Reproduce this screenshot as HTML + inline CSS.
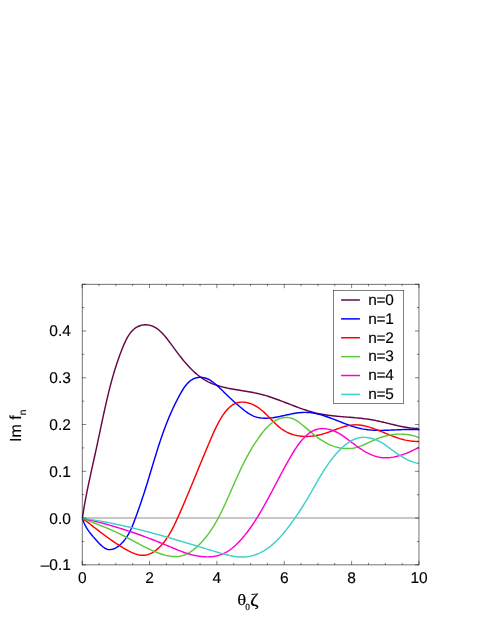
<!DOCTYPE html>
<html><head><meta charset="utf-8"><title>Im f_n</title>
<style>
html,body{margin:0;padding:0;background:#fff;}
svg{display:block;will-change:transform;}
text{font-family:"Liberation Sans",sans-serif;font-size:16px;fill:#000;stroke:#000;stroke-width:0.15px;text-rendering:geometricPrecision;}
.ser{font-family:"Liberation Serif",serif;}
</style></head><body>
<svg width="491" height="635" viewBox="0 0 491 635">
<rect width="491" height="635" fill="#fff"/>
<path d="M82.17,518.0 H419.0" stroke="#b4b4b4" stroke-width="1.5" fill="none"/>
<g fill="none" stroke-width="1.45" stroke-linejoin="round" stroke-linecap="butt">
<path d="M82.40,518.20 L82.61,516.73 L82.82,515.26 L83.05,513.79 L83.27,512.32 L83.51,510.85 L83.75,509.38 L83.99,507.91 L84.24,506.43 L84.50,504.96 L84.76,503.48 L85.03,502.01 L85.30,500.53 L85.57,499.05 L85.85,497.57 L86.13,496.09 L86.42,494.61 L86.71,493.13 L87.00,491.65 L87.30,490.17 L87.60,488.69 L87.91,487.20 L88.21,485.72 L88.52,484.24 L88.84,482.75 L89.15,481.27 L89.47,479.78 L89.79,478.30 L90.11,476.81 L90.43,475.33 L90.75,473.84 L91.08,472.36 L91.40,470.87 L91.73,469.39 L92.06,467.90 L92.39,466.41 L92.72,464.93 L93.05,463.44 L93.38,461.96 L93.71,460.47 L94.03,458.99 L94.36,457.50 L94.69,456.02 L95.02,454.53 L95.35,453.05 L95.67,451.57 L95.99,450.08 L96.32,448.60 L96.64,447.12 L96.96,445.63 L97.28,444.15 L97.59,442.67 L97.91,441.19 L98.22,439.71 L98.54,438.23 L98.85,436.75 L99.16,435.28 L99.48,433.80 L99.79,432.32 L100.10,430.85 L100.41,429.37 L100.72,427.90 L101.03,426.43 L101.34,424.95 L101.66,423.48 L101.97,422.01 L102.28,420.55 L102.60,419.08 L102.91,417.61 L103.23,416.15 L103.55,414.68 L103.86,413.22 L104.18,411.76 L104.51,410.30 L104.83,408.84 L105.15,407.38 L105.48,405.92 L105.81,404.47 L106.14,403.01 L106.47,401.56 L106.81,400.11 L107.15,398.66 L107.49,397.21 L107.83,395.77 L108.18,394.32 L108.53,392.88 L108.89,391.44 L109.24,389.99 L109.61,388.55 L109.98,387.11 L110.35,385.67 L110.73,384.23 L111.11,382.79 L111.50,381.35 L111.89,379.91 L112.29,378.47 L112.70,377.03 L113.11,375.59 L113.53,374.15 L113.96,372.71 L114.39,371.27 L114.83,369.83 L115.28,368.38 L115.74,366.94 L116.21,365.49 L116.68,364.04 L117.16,362.60 L117.65,361.15 L118.16,359.69 L118.67,358.24 L119.19,356.79 L119.72,355.33 L120.26,353.87 L120.81,352.41 L121.37,350.94 L121.95,349.48 L122.53,348.01 L123.13,346.54 L123.74,345.07 L124.37,343.61 L125.02,342.16 L125.69,340.73 L126.39,339.32 L127.12,337.95 L127.88,336.61 L128.68,335.32 L129.51,334.07 L130.39,332.88 L131.32,331.74 L132.29,330.68 L133.32,329.68 L134.40,328.76 L135.54,327.92 L136.74,327.18 L137.99,326.52 L139.29,325.96 L140.63,325.51 L142.00,325.16 L143.39,324.92 L144.80,324.80 L146.22,324.80 L147.64,324.92 L149.06,325.15 L150.46,325.48 L151.85,325.92 L153.20,326.46 L154.52,327.09 L155.80,327.81 L157.03,328.60 L158.23,329.48 L159.38,330.42 L160.50,331.42 L161.59,332.47 L162.65,333.57 L163.68,334.71 L164.68,335.88 L165.67,337.07 L166.63,338.29 L167.58,339.51 L168.52,340.73 L169.44,341.96 L170.36,343.19 L171.27,344.42 L172.18,345.66 L173.09,346.90 L174.00,348.14 L174.91,349.38 L175.84,350.62 L176.76,351.87 L177.70,353.10 L178.64,354.34 L179.58,355.57 L180.54,356.79 L181.50,358.01 L182.47,359.22 L183.45,360.42 L184.44,361.61 L185.44,362.78 L186.45,363.94 L187.47,365.09 L188.50,366.22 L189.54,367.33 L190.60,368.43 L191.66,369.51 L192.74,370.56 L193.83,371.59 L194.94,372.60 L196.06,373.58 L197.19,374.54 L198.34,375.47 L199.50,376.38 L200.68,377.25 L201.88,378.09 L203.09,378.90 L204.32,379.68 L205.56,380.42 L206.83,381.12 L208.11,381.79 L209.41,382.43 L210.73,383.03 L212.06,383.59 L213.41,384.13 L214.77,384.63 L216.15,385.11 L217.54,385.56 L218.95,385.99 L220.36,386.39 L221.79,386.78 L223.23,387.14 L224.68,387.48 L226.14,387.81 L227.60,388.12 L229.08,388.42 L230.56,388.70 L232.05,388.97 L233.54,389.24 L235.04,389.50 L236.55,389.75 L238.06,389.99 L239.57,390.24 L241.08,390.48 L242.60,390.72 L244.11,390.97 L245.63,391.21 L247.15,391.47 L248.66,391.72 L250.18,391.99 L251.69,392.27 L253.20,392.55 L254.70,392.85 L256.20,393.17 L257.70,393.50 L259.18,393.84 L260.67,394.21 L262.14,394.59 L263.61,395.00 L265.08,395.41 L266.54,395.85 L267.99,396.30 L269.44,396.76 L270.88,397.23 L272.32,397.72 L273.75,398.22 L275.18,398.72 L276.61,399.24 L278.03,399.76 L279.45,400.29 L280.87,400.82 L282.29,401.36 L283.70,401.90 L285.11,402.45 L286.52,403.00 L287.93,403.54 L289.33,404.09 L290.74,404.64 L292.15,405.18 L293.55,405.72 L294.96,406.25 L296.36,406.78 L297.77,407.31 L299.17,407.82 L300.58,408.33 L301.99,408.83 L303.40,409.32 L304.82,409.80 L306.23,410.26 L307.65,410.71 L309.07,411.15 L310.50,411.57 L311.92,411.97 L313.36,412.36 L314.79,412.73 L316.23,413.08 L317.68,413.41 L319.12,413.72 L320.58,414.01 L322.04,414.28 L323.50,414.53 L324.96,414.77 L326.43,414.99 L327.91,415.20 L329.38,415.40 L330.86,415.58 L332.35,415.75 L333.84,415.92 L335.33,416.07 L336.82,416.22 L338.31,416.36 L339.81,416.49 L341.31,416.62 L342.81,416.74 L344.32,416.86 L345.82,416.98 L347.33,417.10 L348.84,417.22 L350.35,417.34 L351.86,417.47 L353.37,417.59 L354.89,417.73 L356.40,417.86 L357.92,418.01 L359.43,418.16 L360.95,418.32 L362.47,418.49 L363.98,418.67 L365.50,418.86 L367.01,419.07 L368.53,419.29 L370.04,419.52 L371.55,419.77 L373.07,420.04 L374.58,420.32 L376.09,420.62 L377.60,420.94 L379.10,421.26 L380.61,421.60 L382.11,421.94 L383.61,422.30 L385.11,422.65 L386.61,423.02 L388.10,423.38 L389.59,423.74 L391.08,424.11 L392.57,424.47 L394.05,424.82 L395.53,425.17 L397.00,425.52 L398.48,425.85 L399.94,426.17 L401.41,426.48 L402.87,426.77 L404.32,427.05 L405.77,427.31 L407.22,427.55 L408.66,427.77 L410.10,427.96 L411.53,428.14 L412.96,428.28 L414.38,428.40 L415.80,428.49 L417.21,428.54 L418.61,428.57" stroke="#670748"/>
<path d="M82.40,518.20 L82.84,519.67 L83.33,521.10 L83.86,522.48 L84.45,523.83 L85.09,525.15 L85.77,526.44 L86.49,527.70 L87.26,528.94 L88.07,530.16 L88.92,531.37 L89.81,532.57 L90.73,533.77 L91.69,534.96 L92.68,536.15 L93.71,537.35 L94.77,538.56 L95.86,539.78 L96.98,541.02 L98.12,542.25 L99.29,543.47 L100.48,544.65 L101.70,545.77 L102.93,546.81 L104.19,547.73 L105.46,548.51 L106.75,549.09 L108.06,549.46 L109.37,549.62 L110.69,549.59 L112.01,549.38 L113.32,549.00 L114.62,548.48 L115.90,547.82 L117.16,547.05 L118.39,546.17 L119.59,545.21 L120.75,544.17 L121.86,543.07 L122.92,541.93 L123.93,540.77 L124.88,539.58 L125.78,538.38 L126.63,537.16 L127.43,535.92 L128.19,534.67 L128.91,533.40 L129.59,532.12 L130.24,530.82 L130.86,529.51 L131.46,528.18 L132.04,526.85 L132.60,525.50 L133.14,524.14 L133.67,522.77 L134.20,521.38 L134.72,519.99 L135.24,518.59 L135.76,517.18 L136.28,515.76 L136.80,514.34 L137.32,512.91 L137.83,511.47 L138.35,510.02 L138.86,508.57 L139.36,507.12 L139.87,505.66 L140.37,504.20 L140.88,502.73 L141.37,501.27 L141.87,499.80 L142.36,498.33 L142.85,496.85 L143.33,495.38 L143.81,493.91 L144.29,492.44 L144.76,490.97 L145.23,489.50 L145.70,488.04 L146.16,486.58 L146.61,485.12 L147.07,483.66 L147.51,482.21 L147.96,480.75 L148.40,479.30 L148.85,477.85 L149.28,476.41 L149.72,474.96 L150.16,473.52 L150.59,472.08 L151.02,470.64 L151.45,469.21 L151.88,467.78 L152.31,466.34 L152.74,464.91 L153.17,463.49 L153.60,462.06 L154.03,460.63 L154.47,459.21 L154.90,457.79 L155.33,456.37 L155.77,454.95 L156.21,453.54 L156.65,452.12 L157.09,450.71 L157.53,449.30 L157.98,447.89 L158.43,446.48 L158.89,445.07 L159.35,443.66 L159.81,442.26 L160.27,440.85 L160.75,439.45 L161.22,438.05 L161.70,436.65 L162.19,435.25 L162.68,433.85 L163.18,432.46 L163.68,431.06 L164.19,429.66 L164.71,428.27 L165.23,426.88 L165.76,425.48 L166.30,424.09 L166.84,422.70 L167.40,421.31 L167.96,419.92 L168.53,418.53 L169.10,417.14 L169.69,415.75 L170.29,414.37 L170.89,412.98 L171.51,411.59 L172.14,410.21 L172.77,408.82 L173.42,407.43 L174.07,406.05 L174.74,404.66 L175.42,403.28 L176.11,401.89 L176.82,400.51 L177.53,399.12 L178.26,397.74 L179.00,396.35 L179.75,394.97 L180.51,393.59 L181.30,392.21 L182.10,390.85 L182.92,389.50 L183.76,388.19 L184.64,386.92 L185.54,385.70 L186.48,384.53 L187.46,383.42 L188.47,382.38 L189.53,381.42 L190.63,380.55 L191.79,379.77 L192.99,379.09 L194.24,378.52 L195.53,378.06 L196.86,377.70 L198.21,377.46 L199.58,377.33 L200.97,377.32 L202.36,377.42 L203.75,377.64 L205.14,377.98 L206.51,378.44 L207.87,379.02 L209.22,379.70 L210.54,380.48 L211.85,381.33 L213.14,382.26 L214.41,383.24 L215.66,384.28 L216.88,385.35 L218.09,386.44 L219.27,387.55 L220.42,388.66 L221.56,389.76 L222.66,390.84 L223.75,391.91 L224.81,392.95 L225.87,393.99 L226.91,395.01 L227.96,396.02 L229.00,397.02 L230.05,398.02 L231.12,399.02 L232.20,400.01 L233.29,401.00 L234.41,402.00 L235.53,402.99 L236.68,403.98 L237.84,404.98 L239.02,405.98 L240.21,406.98 L241.42,407.98 L242.64,408.99 L243.88,409.99 L245.13,410.97 L246.40,411.92 L247.68,412.83 L248.97,413.68 L250.28,414.48 L251.60,415.19 L252.93,415.83 L254.28,416.38 L255.64,416.85 L257.01,417.25 L258.39,417.57 L259.78,417.83 L261.18,418.02 L262.60,418.15 L264.02,418.23 L265.45,418.25 L266.89,418.22 L268.33,418.15 L269.79,418.04 L271.25,417.88 L272.71,417.70 L274.19,417.48 L275.66,417.23 L277.15,416.97 L278.64,416.68 L280.13,416.37 L281.62,416.06 L283.12,415.73 L284.62,415.40 L286.13,415.07 L287.63,414.75 L289.14,414.42 L290.65,414.11 L292.16,413.82 L293.67,413.54 L295.17,413.28 L296.68,413.05 L298.19,412.84 L299.69,412.67 L301.19,412.53 L302.69,412.44 L304.19,412.38 L305.68,412.38 L307.16,412.42 L308.65,412.51 L310.13,412.65 L311.60,412.83 L313.07,413.04 L314.54,413.30 L316.01,413.59 L317.47,413.92 L318.93,414.28 L320.39,414.66 L321.85,415.08 L323.30,415.52 L324.75,415.98 L326.20,416.46 L327.64,416.97 L329.08,417.48 L330.53,418.02 L331.97,418.56 L333.41,419.11 L334.84,419.67 L336.28,420.24 L337.72,420.81 L339.15,421.38 L340.59,421.95 L342.02,422.52 L343.45,423.08 L344.89,423.63 L346.32,424.18 L347.75,424.71 L349.19,425.22 L350.62,425.72 L352.05,426.21 L353.49,426.67 L354.92,427.11 L356.36,427.52 L357.80,427.90 L359.24,428.26 L360.68,428.58 L362.12,428.88 L363.56,429.14 L365.00,429.37 L366.45,429.57 L367.90,429.75 L369.35,429.90 L370.80,430.03 L372.26,430.14 L373.72,430.22 L375.18,430.29 L376.64,430.33 L378.11,430.36 L379.58,430.38 L381.06,430.38 L382.53,430.36 L384.02,430.34 L385.50,430.30 L386.99,430.26 L388.48,430.20 L389.98,430.14 L391.48,430.08 L392.99,430.01 L394.50,429.94 L396.02,429.87 L397.54,429.80 L399.06,429.73 L400.59,429.67 L402.13,429.61 L403.67,429.55 L405.22,429.51 L406.78,429.47 L408.34,429.44 L409.90,429.42 L411.47,429.42 L413.05,429.43 L414.64,429.45 L416.23,429.49 L417.83,429.55 L419.44,429.63" stroke="#0000ff"/>
<path d="M82.40,518.20 L83.63,519.14 L84.86,520.08 L86.07,521.01 L87.28,521.95 L88.47,522.87 L89.66,523.80 L90.85,524.72 L92.03,525.64 L93.20,526.56 L94.38,527.47 L95.55,528.38 L96.71,529.28 L97.88,530.18 L99.05,531.08 L100.22,531.98 L101.39,532.87 L102.57,533.75 L103.75,534.64 L104.93,535.52 L106.12,536.39 L107.32,537.27 L108.52,538.14 L109.73,539.00 L110.95,539.86 L112.19,540.72 L113.43,541.57 L114.68,542.42 L115.95,543.27 L117.23,544.11 L118.53,544.95 L119.84,545.78 L121.17,546.61 L122.52,547.44 L123.88,548.26 L125.27,549.07 L126.66,549.86 L128.07,550.63 L129.49,551.36 L130.91,552.06 L132.34,552.70 L133.77,553.30 L135.20,553.83 L136.63,554.29 L138.06,554.67 L139.47,554.97 L140.88,555.17 L142.28,555.28 L143.66,555.28 L145.02,555.16 L146.37,554.94 L147.70,554.62 L149.01,554.19 L150.30,553.67 L151.57,553.07 L152.82,552.38 L154.04,551.62 L155.24,550.78 L156.42,549.88 L157.57,548.92 L158.70,547.90 L159.79,546.84 L160.87,545.73 L161.91,544.58 L162.92,543.40 L163.90,542.20 L164.85,540.97 L165.77,539.72 L166.66,538.46 L167.51,537.19 L168.34,535.90 L169.15,534.60 L169.93,533.28 L170.69,531.96 L171.43,530.63 L172.15,529.29 L172.85,527.94 L173.53,526.58 L174.20,525.22 L174.86,523.85 L175.51,522.48 L176.15,521.11 L176.78,519.73 L177.40,518.36 L178.03,516.98 L178.64,515.60 L179.26,514.23 L179.87,512.85 L180.48,511.48 L181.08,510.10 L181.68,508.73 L182.28,507.35 L182.88,505.97 L183.47,504.60 L184.06,503.22 L184.65,501.85 L185.24,500.47 L185.82,499.09 L186.40,497.72 L186.98,496.34 L187.56,494.97 L188.14,493.59 L188.72,492.21 L189.29,490.83 L189.86,489.46 L190.43,488.08 L191.01,486.70 L191.58,485.32 L192.14,483.94 L192.71,482.56 L193.28,481.18 L193.85,479.80 L194.41,478.42 L194.98,477.04 L195.55,475.66 L196.11,474.28 L196.68,472.89 L197.25,471.51 L197.81,470.13 L198.38,468.74 L198.95,467.36 L199.52,465.97 L200.09,464.58 L200.66,463.19 L201.23,461.80 L201.81,460.41 L202.38,459.02 L202.96,457.63 L203.53,456.24 L204.11,454.85 L204.69,453.45 L205.27,452.06 L205.86,450.66 L206.45,449.26 L207.03,447.87 L207.63,446.47 L208.22,445.07 L208.82,443.66 L209.41,442.26 L210.02,440.86 L210.62,439.45 L211.23,438.05 L211.84,436.64 L212.45,435.23 L213.07,433.82 L213.70,432.41 L214.33,431.01 L214.97,429.61 L215.62,428.21 L216.29,426.83 L216.97,425.45 L217.66,424.08 L218.37,422.73 L219.10,421.38 L219.85,420.06 L220.62,418.75 L221.41,417.45 L222.23,416.18 L223.08,414.93 L223.95,413.70 L224.85,412.49 L225.78,411.32 L226.75,410.17 L227.74,409.06 L228.78,407.99 L229.85,406.99 L230.96,406.06 L232.11,405.21 L233.30,404.45 L234.53,403.79 L235.81,403.23 L237.13,402.80 L238.49,402.47 L239.87,402.25 L241.28,402.13 L242.70,402.10 L244.14,402.18 L245.57,402.34 L247.01,402.60 L248.43,402.94 L249.85,403.36 L251.26,403.86 L252.65,404.43 L254.02,405.07 L255.36,405.78 L256.67,406.56 L257.95,407.39 L259.21,408.28 L260.44,409.22 L261.64,410.20 L262.83,411.21 L264.00,412.27 L265.15,413.35 L266.29,414.45 L267.42,415.57 L268.54,416.70 L269.66,417.85 L270.77,418.99 L271.88,420.13 L272.99,421.26 L274.10,422.38 L275.22,423.48 L276.35,424.56 L277.49,425.60 L278.65,426.62 L279.82,427.59 L281.00,428.52 L282.21,429.40 L283.44,430.22 L284.70,430.99 L285.97,431.71 L287.27,432.37 L288.58,432.97 L289.92,433.53 L291.27,434.03 L292.64,434.48 L294.03,434.88 L295.43,435.24 L296.84,435.54 L298.27,435.80 L299.71,436.01 L301.16,436.18 L302.61,436.30 L304.08,436.38 L305.56,436.41 L307.04,436.41 L308.52,436.36 L310.01,436.28 L311.51,436.15 L313.00,435.98 L314.50,435.78 L316.00,435.55 L317.50,435.27 L318.99,434.96 L320.48,434.62 L321.97,434.25 L323.46,433.84 L324.94,433.40 L326.41,432.93 L327.87,432.44 L329.33,431.92 L330.78,431.39 L332.23,430.85 L333.67,430.30 L335.12,429.75 L336.55,429.21 L337.99,428.67 L339.42,428.15 L340.86,427.65 L342.29,427.18 L343.73,426.73 L345.16,426.32 L346.60,425.95 L348.04,425.62 L349.48,425.34 L350.92,425.12 L352.37,424.96 L353.83,424.86 L355.29,424.83 L356.75,424.86 L358.22,424.94 L359.69,425.09 L361.16,425.28 L362.63,425.53 L364.10,425.81 L365.57,426.15 L367.04,426.51 L368.51,426.92 L369.97,427.36 L371.42,427.82 L372.88,428.31 L374.32,428.82 L375.76,429.35 L377.19,429.89 L378.62,430.45 L380.04,431.02 L381.45,431.59 L382.86,432.17 L384.26,432.76 L385.66,433.34 L387.07,433.92 L388.46,434.49 L389.86,435.06 L391.26,435.62 L392.66,436.16 L394.07,436.69 L395.47,437.20 L396.88,437.69 L398.30,438.16 L399.72,438.61 L401.15,439.02 L402.58,439.41 L404.02,439.77 L405.47,440.09 L406.94,440.38 L408.41,440.64 L409.89,440.87 L411.38,441.06 L412.89,441.21 L414.41,441.34 L415.95,441.42 L417.50,441.48 L419.07,441.49" stroke="#ff0000"/>
<path d="M82.40,518.20 L83.90,518.83 L85.39,519.45 L86.87,520.05 L88.33,520.65 L89.78,521.24 L91.22,521.82 L92.65,522.39 L94.07,522.96 L95.48,523.52 L96.87,524.07 L98.26,524.63 L99.64,525.18 L101.01,525.73 L102.37,526.28 L103.73,526.83 L105.08,527.38 L106.42,527.93 L107.76,528.48 L109.09,529.04 L110.41,529.61 L111.74,530.18 L113.05,530.76 L114.37,531.35 L115.68,531.94 L116.99,532.55 L118.30,533.17 L119.61,533.80 L120.91,534.44 L122.22,535.09 L123.52,535.75 L124.83,536.43 L126.13,537.11 L127.44,537.80 L128.75,538.50 L130.07,539.20 L131.38,539.90 L132.70,540.61 L134.03,541.32 L135.36,542.04 L136.69,542.75 L138.03,543.46 L139.38,544.17 L140.73,544.88 L142.09,545.58 L143.46,546.28 L144.83,546.97 L146.22,547.65 L147.61,548.32 L149.01,548.99 L150.42,549.64 L151.85,550.29 L153.28,550.92 L154.73,551.53 L156.18,552.13 L157.64,552.71 L159.11,553.25 L160.59,553.78 L162.06,554.26 L163.54,554.72 L165.02,555.13 L166.50,555.50 L167.98,555.82 L169.46,556.09 L170.93,556.30 L172.39,556.46 L173.84,556.56 L175.29,556.59 L176.73,556.56 L178.15,556.45 L179.56,556.27 L180.96,556.00 L182.33,555.66 L183.70,555.23 L185.04,554.72 L186.36,554.14 L187.67,553.49 L188.96,552.78 L190.23,552.00 L191.47,551.17 L192.70,550.29 L193.91,549.37 L195.09,548.41 L196.25,547.41 L197.39,546.38 L198.51,545.32 L199.60,544.24 L200.67,543.15 L201.72,542.04 L202.75,540.91 L203.75,539.77 L204.73,538.62 L205.69,537.45 L206.63,536.27 L207.55,535.07 L208.46,533.86 L209.34,532.64 L210.21,531.40 L211.06,530.16 L211.89,528.90 L212.71,527.64 L213.51,526.36 L214.29,525.08 L215.06,523.78 L215.82,522.48 L216.57,521.16 L217.30,519.85 L218.02,518.52 L218.73,517.18 L219.43,515.84 L220.12,514.50 L220.80,513.15 L221.47,511.79 L222.13,510.43 L222.78,509.07 L223.43,507.70 L224.07,506.33 L224.71,504.95 L225.33,503.58 L225.96,502.20 L226.58,500.82 L227.19,499.44 L227.81,498.06 L228.42,496.68 L229.03,495.30 L229.63,493.92 L230.24,492.54 L230.84,491.16 L231.44,489.78 L232.05,488.40 L232.65,487.02 L233.26,485.65 L233.86,484.27 L234.47,482.90 L235.07,481.53 L235.68,480.16 L236.30,478.79 L236.91,477.42 L237.53,476.05 L238.15,474.69 L238.78,473.33 L239.41,471.97 L240.05,470.61 L240.69,469.25 L241.33,467.90 L241.99,466.55 L242.65,465.20 L243.31,463.86 L243.98,462.52 L244.66,461.18 L245.35,459.85 L246.05,458.51 L246.76,457.19 L247.47,455.86 L248.19,454.54 L248.93,453.23 L249.67,451.91 L250.43,450.60 L251.19,449.30 L251.97,448.00 L252.76,446.71 L253.56,445.42 L254.38,444.13 L255.20,442.85 L256.04,441.57 L256.90,440.30 L257.77,439.04 L258.65,437.78 L259.55,436.52 L260.46,435.27 L261.39,434.03 L262.34,432.81 L263.30,431.59 L264.28,430.40 L265.29,429.24 L266.31,428.10 L267.35,427.00 L268.42,425.94 L269.50,424.92 L270.61,423.94 L271.75,423.02 L272.91,422.15 L274.10,421.34 L275.31,420.60 L276.55,419.93 L277.82,419.32 L279.12,418.80 L280.45,418.35 L281.81,417.99 L283.19,417.73 L284.59,417.55 L286.01,417.47 L287.42,417.50 L288.84,417.63 L290.25,417.88 L291.66,418.24 L293.04,418.72 L294.40,419.33 L295.74,420.04 L297.05,420.86 L298.35,421.75 L299.63,422.71 L300.89,423.71 L302.13,424.74 L303.36,425.78 L304.59,426.83 L305.80,427.86 L307.01,428.89 L308.21,429.91 L309.40,430.91 L310.60,431.91 L311.79,432.90 L312.99,433.87 L314.19,434.83 L315.39,435.77 L316.60,436.69 L317.82,437.59 L319.05,438.47 L320.28,439.33 L321.53,440.16 L322.78,440.97 L324.05,441.74 L325.33,442.48 L326.63,443.19 L327.94,443.86 L329.27,444.50 L330.61,445.09 L331.98,445.64 L333.36,446.15 L334.76,446.62 L336.19,447.04 L337.62,447.41 L339.08,447.73 L340.54,448.00 L342.01,448.22 L343.50,448.39 L344.98,448.50 L346.47,448.56 L347.96,448.57 L349.45,448.51 L350.94,448.40 L352.42,448.23 L353.90,448.00 L355.36,447.70 L356.82,447.34 L358.26,446.93 L359.69,446.46 L361.11,445.94 L362.52,445.38 L363.93,444.79 L365.33,444.17 L366.72,443.53 L368.12,442.87 L369.51,442.21 L370.90,441.55 L372.30,440.90 L373.69,440.25 L375.10,439.63 L376.50,439.04 L377.92,438.47 L379.34,437.94 L380.76,437.44 L382.19,436.97 L383.63,436.53 L385.07,436.13 L386.52,435.76 L387.97,435.43 L389.43,435.13 L390.90,434.87 L392.36,434.64 L393.84,434.46 L395.31,434.31 L396.79,434.20 L398.28,434.13 L399.77,434.10 L401.26,434.11 L402.75,434.17 L404.25,434.26 L405.75,434.40 L407.24,434.58 L408.74,434.80 L410.23,435.07 L411.72,435.39 L413.21,435.75 L414.69,436.16 L416.16,436.61 L417.62,437.12 L419.07,437.67" stroke="#5cc83c"/>
<path d="M82.40,518.20 L83.87,518.54 L85.35,518.88 L86.82,519.22 L88.28,519.57 L89.75,519.92 L91.22,520.28 L92.68,520.64 L94.14,521.01 L95.61,521.38 L97.06,521.75 L98.52,522.13 L99.98,522.52 L101.43,522.91 L102.89,523.30 L104.34,523.70 L105.79,524.10 L107.24,524.50 L108.69,524.91 L110.13,525.33 L111.58,525.75 L113.02,526.17 L114.46,526.60 L115.90,527.03 L117.34,527.47 L118.78,527.91 L120.21,528.35 L121.65,528.80 L123.08,529.25 L124.51,529.71 L125.94,530.17 L127.37,530.64 L128.79,531.11 L130.22,531.58 L131.64,532.06 L133.07,532.55 L134.49,533.03 L135.91,533.53 L137.33,534.02 L138.74,534.52 L140.16,535.03 L141.57,535.54 L142.99,536.05 L144.40,536.57 L145.81,537.09 L147.22,537.61 L148.63,538.14 L150.03,538.68 L151.44,539.22 L152.84,539.76 L154.24,540.30 L155.64,540.86 L157.04,541.41 L158.44,541.97 L159.84,542.53 L161.24,543.10 L162.63,543.67 L164.02,544.25 L165.42,544.83 L166.81,545.41 L168.20,546.00 L169.59,546.59 L170.98,547.18 L172.37,547.76 L173.76,548.35 L175.15,548.93 L176.54,549.50 L177.94,550.06 L179.34,550.62 L180.74,551.16 L182.14,551.68 L183.55,552.20 L184.97,552.69 L186.39,553.17 L187.81,553.62 L189.24,554.05 L190.68,554.46 L192.12,554.84 L193.58,555.20 L195.04,555.52 L196.50,555.82 L197.98,556.08 L199.47,556.30 L200.97,556.49 L202.47,556.65 L203.97,556.76 L205.48,556.83 L206.99,556.86 L208.50,556.84 L210.00,556.78 L211.49,556.67 L212.97,556.50 L214.45,556.29 L215.90,556.02 L217.34,555.70 L218.77,555.32 L220.17,554.88 L221.54,554.38 L222.90,553.83 L224.23,553.21 L225.53,552.55 L226.82,551.83 L228.08,551.06 L229.33,550.25 L230.55,549.39 L231.75,548.49 L232.93,547.55 L234.09,546.58 L235.23,545.57 L236.35,544.53 L237.45,543.46 L238.53,542.37 L239.60,541.25 L240.65,540.11 L241.68,538.95 L242.70,537.77 L243.70,536.58 L244.68,535.38 L245.65,534.17 L246.60,532.95 L247.54,531.72 L248.46,530.49 L249.37,529.25 L250.27,528.00 L251.15,526.75 L252.02,525.49 L252.88,524.23 L253.73,522.96 L254.57,521.69 L255.39,520.42 L256.21,519.14 L257.01,517.86 L257.81,516.57 L258.59,515.29 L259.37,514.00 L260.14,512.71 L260.90,511.42 L261.65,510.13 L262.39,508.84 L263.13,507.54 L263.86,506.25 L264.59,504.96 L265.31,503.67 L266.03,502.38 L266.74,501.08 L267.44,499.79 L268.14,498.50 L268.84,497.20 L269.54,495.91 L270.23,494.61 L270.92,493.32 L271.61,492.02 L272.30,490.72 L272.98,489.42 L273.67,488.12 L274.35,486.82 L275.03,485.51 L275.72,484.20 L276.41,482.90 L277.09,481.59 L277.78,480.27 L278.47,478.96 L279.17,477.64 L279.86,476.32 L280.56,475.00 L281.27,473.68 L281.97,472.35 L282.69,471.02 L283.40,469.69 L284.13,468.35 L284.86,467.01 L285.59,465.67 L286.33,464.32 L287.08,462.97 L287.84,461.62 L288.60,460.26 L289.37,458.90 L290.15,457.54 L290.94,456.18 L291.75,454.81 L292.56,453.45 L293.38,452.10 L294.22,450.76 L295.07,449.42 L295.93,448.11 L296.81,446.80 L297.71,445.52 L298.62,444.26 L299.55,443.03 L300.50,441.82 L301.47,440.64 L302.46,439.49 L303.47,438.38 L304.50,437.31 L305.56,436.27 L306.64,435.28 L307.74,434.34 L308.87,433.46 L310.02,432.63 L311.20,431.87 L312.41,431.17 L313.64,430.55 L314.91,430.00 L316.20,429.53 L317.53,429.16 L318.89,428.87 L320.28,428.68 L321.70,428.58 L323.15,428.58 L324.61,428.67 L326.09,428.84 L327.57,429.09 L329.06,429.41 L330.53,429.81 L332.00,430.27 L333.45,430.79 L334.87,431.37 L336.27,432.00 L337.63,432.68 L338.95,433.41 L340.25,434.17 L341.53,434.97 L342.78,435.80 L344.01,436.66 L345.24,437.54 L346.45,438.43 L347.65,439.34 L348.85,440.26 L350.06,441.19 L351.27,442.11 L352.48,443.03 L353.70,443.95 L354.92,444.86 L356.15,445.75 L357.39,446.64 L358.63,447.51 L359.88,448.37 L361.14,449.20 L362.41,450.01 L363.69,450.79 L364.97,451.55 L366.27,452.28 L367.58,452.97 L368.90,453.63 L370.23,454.25 L371.57,454.83 L372.92,455.37 L374.29,455.86 L375.67,456.30 L377.06,456.69 L378.47,457.03 L379.89,457.31 L381.33,457.54 L382.78,457.70 L384.25,457.80 L385.73,457.83 L387.23,457.80 L388.74,457.71 L390.26,457.56 L391.79,457.36 L393.32,457.11 L394.85,456.80 L396.39,456.46 L397.92,456.07 L399.44,455.65 L400.95,455.18 L402.46,454.69 L403.95,454.17 L405.43,453.62 L406.88,453.05 L408.32,452.46 L409.74,451.85 L411.12,451.23 L412.49,450.60 L413.82,449.96 L415.11,449.32 L416.37,448.68 L417.60,448.04 L418.78,447.40" stroke="#ff00d2"/>
<path d="M82.40,518.20 L83.94,518.42 L85.47,518.65 L87.00,518.88 L88.52,519.11 L90.04,519.35 L91.56,519.60 L93.08,519.85 L94.59,520.10 L96.09,520.35 L97.59,520.62 L99.09,520.88 L100.59,521.15 L102.08,521.42 L103.57,521.70 L105.06,521.98 L106.54,522.27 L108.02,522.55 L109.50,522.85 L110.97,523.14 L112.44,523.44 L113.91,523.75 L115.38,524.06 L116.84,524.37 L118.31,524.68 L119.77,525.00 L121.22,525.32 L122.68,525.65 L124.13,525.97 L125.58,526.31 L127.03,526.64 L128.48,526.98 L129.92,527.32 L131.37,527.67 L132.81,528.02 L134.25,528.37 L135.69,528.72 L137.13,529.08 L138.57,529.44 L140.00,529.80 L141.44,530.17 L142.87,530.53 L144.31,530.91 L145.74,531.28 L147.17,531.66 L148.60,532.04 L150.03,532.42 L151.46,532.80 L152.89,533.19 L154.32,533.58 L155.75,533.97 L157.18,534.37 L158.61,534.76 L160.04,535.16 L161.47,535.56 L162.90,535.97 L164.33,536.37 L165.76,536.78 L167.19,537.19 L168.62,537.60 L170.05,538.01 L171.49,538.43 L172.92,538.85 L174.35,539.27 L175.79,539.69 L177.22,540.11 L178.66,540.54 L180.10,540.96 L181.54,541.39 L182.98,541.82 L184.42,542.25 L185.87,542.68 L187.31,543.12 L188.76,543.55 L190.21,543.99 L191.66,544.43 L193.12,544.87 L194.57,545.31 L196.03,545.75 L197.49,546.19 L198.95,546.63 L200.41,547.08 L201.88,547.53 L203.35,547.97 L204.82,548.42 L206.30,548.87 L207.77,549.32 L209.25,549.77 L210.74,550.22 L212.22,550.67 L213.71,551.12 L215.20,551.58 L216.70,552.03 L218.20,552.48 L219.70,552.92 L221.20,553.36 L222.70,553.78 L224.20,554.19 L225.71,554.58 L227.21,554.96 L228.71,555.31 L230.20,555.63 L231.70,555.93 L233.19,556.20 L234.68,556.44 L236.16,556.63 L237.64,556.79 L239.11,556.91 L240.58,556.99 L242.03,557.02 L243.49,556.99 L244.93,556.92 L246.37,556.79 L247.79,556.61 L249.21,556.38 L250.61,556.10 L252.01,555.77 L253.39,555.39 L254.77,554.97 L256.13,554.50 L257.47,553.98 L258.81,553.42 L260.12,552.82 L261.43,552.17 L262.72,551.48 L263.99,550.76 L265.24,549.99 L266.48,549.19 L267.70,548.35 L268.91,547.48 L270.09,546.57 L271.26,545.64 L272.41,544.67 L273.55,543.67 L274.67,542.65 L275.77,541.60 L276.86,540.53 L277.94,539.43 L279.00,538.32 L280.04,537.19 L281.07,536.04 L282.09,534.88 L283.09,533.70 L284.08,532.51 L285.06,531.32 L286.03,530.11 L286.98,528.90 L287.93,527.68 L288.86,526.46 L289.78,525.24 L290.69,524.01 L291.59,522.79 L292.48,521.57 L293.36,520.35 L294.23,519.12 L295.09,517.90 L295.94,516.67 L296.78,515.44 L297.62,514.21 L298.45,512.98 L299.27,511.74 L300.08,510.50 L300.89,509.26 L301.69,508.01 L302.49,506.75 L303.28,505.49 L304.06,504.23 L304.84,502.96 L305.61,501.68 L306.38,500.39 L307.15,499.10 L307.91,497.81 L308.67,496.50 L309.43,495.19 L310.18,493.88 L310.93,492.56 L311.69,491.24 L312.44,489.92 L313.19,488.59 L313.95,487.27 L314.70,485.94 L315.46,484.61 L316.22,483.29 L316.99,481.96 L317.75,480.64 L318.53,479.32 L319.30,478.00 L320.08,476.68 L320.87,475.37 L321.67,474.07 L322.47,472.77 L323.28,471.47 L324.09,470.18 L324.92,468.90 L325.75,467.63 L326.60,466.37 L327.45,465.11 L328.32,463.87 L329.20,462.63 L330.09,461.41 L330.99,460.20 L331.90,459.00 L332.83,457.81 L333.78,456.64 L334.73,455.48 L335.71,454.34 L336.70,453.21 L337.70,452.10 L338.72,451.00 L339.77,449.92 L340.82,448.87 L341.90,447.83 L343.00,446.81 L344.11,445.83 L345.25,444.88 L346.41,443.97 L347.58,443.10 L348.78,442.27 L350.01,441.49 L351.25,440.77 L352.52,440.11 L353.82,439.50 L355.14,438.96 L356.48,438.50 L357.85,438.10 L359.24,437.78 L360.67,437.54 L362.12,437.39 L363.60,437.33 L365.10,437.36 L366.62,437.47 L368.16,437.67 L369.69,437.95 L371.23,438.29 L372.75,438.71 L374.25,439.19 L375.72,439.73 L377.16,440.33 L378.55,440.97 L379.90,441.66 L381.22,442.40 L382.50,443.16 L383.75,443.97 L384.99,444.80 L386.20,445.65 L387.40,446.52 L388.60,447.41 L389.80,448.31 L391.00,449.21 L392.20,450.12 L393.43,451.02 L394.66,451.91 L395.91,452.79 L397.17,453.67 L398.44,454.52 L399.73,455.36 L401.03,456.18 L402.34,456.97 L403.67,457.74 L405.00,458.47 L406.35,459.17 L407.72,459.84 L409.09,460.47 L410.48,461.05 L411.87,461.59 L413.28,462.08 L414.70,462.52 L416.14,462.91 L417.58,463.24 L419.03,463.51" stroke="#40d0c8"/>
</g>
<rect x="82.17" y="284.2" width="336.8" height="280.7" fill="none" stroke="#000" stroke-width="0.55"/>
<path d="M82.17,564.87 v-4.0 M82.17,284.2 v4.0 M99.01,564.87 v-2.0 M99.01,284.2 v2.0 M115.85,564.87 v-2.0 M115.85,284.2 v2.0 M132.69,564.87 v-2.0 M132.69,284.2 v2.0 M149.54,564.87 v-4.0 M149.54,284.2 v4.0 M166.38,564.87 v-2.0 M166.38,284.2 v2.0 M183.22,564.87 v-2.0 M183.22,284.2 v2.0 M200.06,564.87 v-2.0 M200.06,284.2 v2.0 M216.90,564.87 v-4.0 M216.90,284.2 v4.0 M233.74,564.87 v-2.0 M233.74,284.2 v2.0 M250.58,564.87 v-2.0 M250.58,284.2 v2.0 M267.43,564.87 v-2.0 M267.43,284.2 v2.0 M284.27,564.87 v-4.0 M284.27,284.2 v4.0 M301.11,564.87 v-2.0 M301.11,284.2 v2.0 M317.95,564.87 v-2.0 M317.95,284.2 v2.0 M334.79,564.87 v-2.0 M334.79,284.2 v2.0 M351.63,564.87 v-4.0 M351.63,284.2 v4.0 M368.48,564.87 v-2.0 M368.48,284.2 v2.0 M385.32,564.87 v-2.0 M385.32,284.2 v2.0 M402.16,564.87 v-2.0 M402.16,284.2 v2.0 M419.00,564.87 v-4.0 M419.00,284.2 v4.0 M82.17,564.87 h4.0 M419.0,564.87 h-4.0 M82.17,541.48 h2.0 M419.0,541.48 h-2.0 M82.17,518.09 h4.0 M419.0,518.09 h-4.0 M82.17,494.70 h2.0 M419.0,494.70 h-2.0 M82.17,471.31 h4.0 M419.0,471.31 h-4.0 M82.17,447.92 h2.0 M419.0,447.92 h-2.0 M82.17,424.53 h4.0 M419.0,424.53 h-4.0 M82.17,401.15 h2.0 M419.0,401.15 h-2.0 M82.17,377.76 h4.0 M419.0,377.76 h-4.0 M82.17,354.37 h2.0 M419.0,354.37 h-2.0 M82.17,330.98 h4.0 M419.0,330.98 h-4.0 M82.17,307.59 h2.0 M419.0,307.59 h-2.0 M82.17,284.20 h4.0 M419.0,284.20 h-4.0" stroke="#000" stroke-width="0.5" fill="none"/>
<rect x="333.25" y="290.6" width="70.5" height="113.0" fill="#fff" stroke="#000" stroke-width="0.5"/>
<path d="M341.1,300.00 H359.9" stroke="#670748" stroke-width="1.5" fill="none"/>
<text x="368.2" y="304.85" style="font-size:15.4px;letter-spacing:-0.3px">n=0</text>
<path d="M341.1,318.88 H359.9" stroke="#0000ff" stroke-width="1.5" fill="none"/>
<text x="368.2" y="323.73" style="font-size:15.4px;letter-spacing:-0.3px">n=1</text>
<path d="M341.1,337.76 H359.9" stroke="#ff0000" stroke-width="1.5" fill="none"/>
<text x="368.2" y="342.61" style="font-size:15.4px;letter-spacing:-0.3px">n=2</text>
<path d="M341.1,356.64 H359.9" stroke="#5cc83c" stroke-width="1.5" fill="none"/>
<text x="368.2" y="361.49" style="font-size:15.4px;letter-spacing:-0.3px">n=3</text>
<path d="M341.1,375.52 H359.9" stroke="#ff00d2" stroke-width="1.5" fill="none"/>
<text x="368.2" y="380.37" style="font-size:15.4px;letter-spacing:-0.3px">n=4</text>
<path d="M341.1,394.40 H359.9" stroke="#40d0c8" stroke-width="1.5" fill="none"/>
<text x="368.2" y="399.25" style="font-size:15.4px;letter-spacing:-0.3px">n=5</text>
<text x="82.2" y="583.3" text-anchor="middle" style="font-size:15.5px">0</text>
<text x="149.5" y="583.3" text-anchor="middle" style="font-size:15.5px">2</text>
<text x="216.9" y="583.3" text-anchor="middle" style="font-size:15.5px">4</text>
<text x="284.3" y="583.3" text-anchor="middle" style="font-size:15.5px">6</text>
<text x="351.6" y="583.3" text-anchor="middle" style="font-size:15.5px">8</text>
<text x="419.0" y="583.3" text-anchor="middle" style="font-size:15.5px">10</text>
<text x="70.9" y="570.37" text-anchor="end" style="font-size:15.5px">–0.1</text>
<text x="70.9" y="523.59" text-anchor="end" style="font-size:15.5px">0.0</text>
<text x="70.9" y="476.81" text-anchor="end" style="font-size:15.5px">0.1</text>
<text x="70.9" y="430.03" text-anchor="end" style="font-size:15.5px">0.2</text>
<text x="70.9" y="383.26" text-anchor="end" style="font-size:15.5px">0.3</text>
<text x="70.9" y="336.48" text-anchor="end" style="font-size:15.5px">0.4</text>
<text transform="translate(21.4,442) rotate(-90)">Im f<tspan style="font-size:10px" dy="5">n</tspan></text>
<g class="ser">
<text transform="translate(237.2,604.9) scale(1.2,1)" class="ser" style="font-size:15.6px">θ</text>
<text x="245.3" y="609.5" class="ser" style="font-size:9.3px">0</text>
<text transform="translate(250.0,605.7) scale(1.3,1.1)" class="ser" style="font-size:16.2px">ζ</text>
</g>
</svg>
</body></html>
